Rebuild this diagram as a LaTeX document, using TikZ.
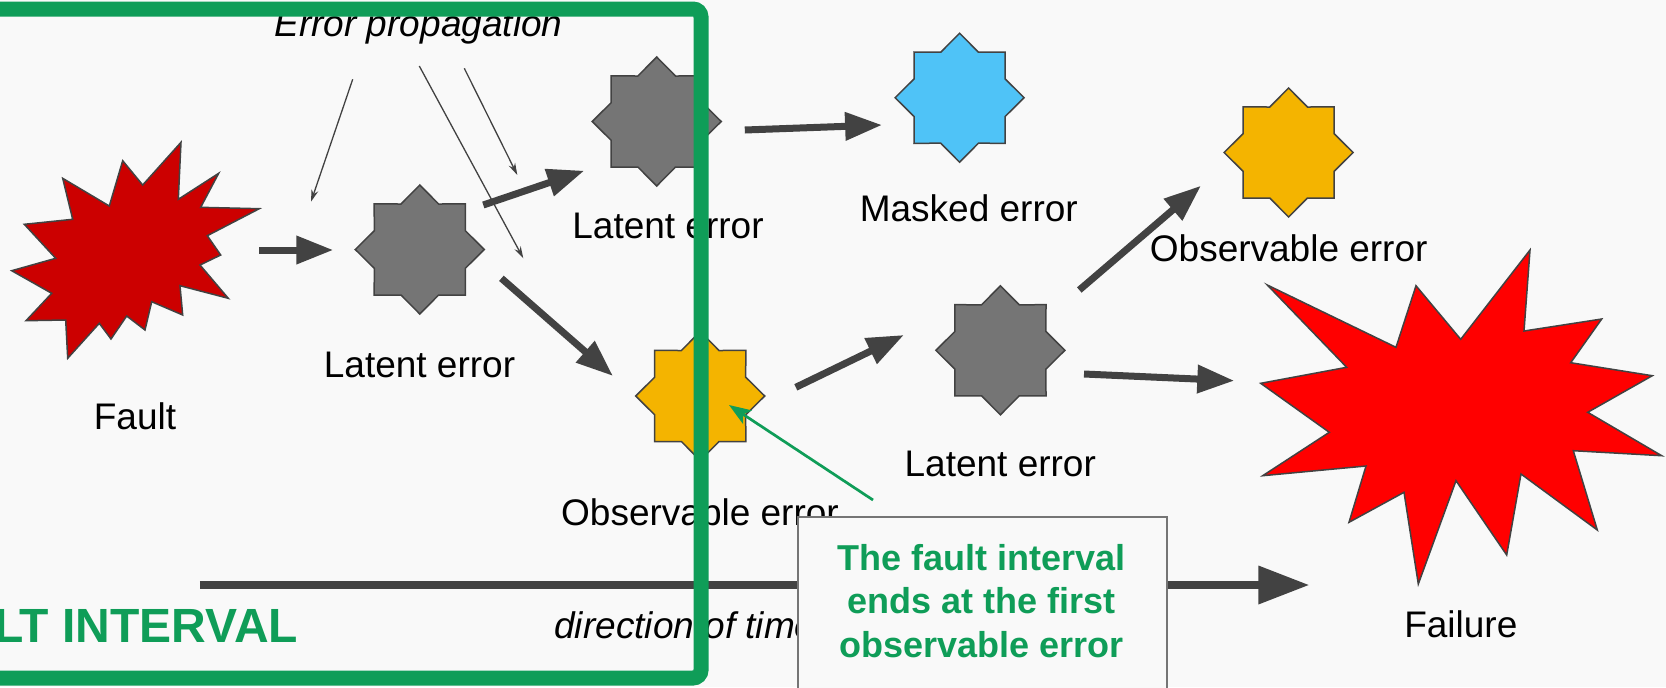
\documentclass[tikz,border=0pt]{standalone}
\usepackage{fontspec}
\setmainfont{Liberation Sans}
\usetikzlibrary{shapes.geometric,arrows.meta}
\definecolor{bg}{HTML}{F9F9F9}
\definecolor{dk}{HTML}{424242}
\definecolor{gstar}{HTML}{757575}
\definecolor{bstar}{HTML}{4FC3F7}
\definecolor{ystar}{HTML}{F4B400}
\definecolor{faultred}{HTML}{CC0000}
\definecolor{failred}{HTML}{FF0000}
\definecolor{ggreen}{HTML}{0F9D58}
\definecolor{boxline}{HTML}{757575}
\begin{document}
\begin{tikzpicture}[x=0.5pt,y=-0.5pt,
  errstar/.style={star, star points=8, star point ratio=1.31, minimum size=64.5pt,
    inner sep=0pt, draw=dk, line width=0.75pt},
  lbl/.style={font=\fontsize{18.5}{22}\selectfont, inner sep=0pt, anchor=base},
  itlbl/.style={font=\fontsize{18.5}{22}\selectfont\itshape, inner sep=0pt},
  bigarrow/.style={draw=dk, line width=3.5pt, -{Triangle[length=18.5pt,width=13.5pt]}},
  timearrow/.style={draw=dk, line width=4pt, -{Triangle[length=25.5pt,width=18.3pt]}},
  thinarrow/.style={draw=dk, line width=0.65pt, -{Stealth[length=6pt,width=3.5pt]}},
  burst/.style={draw=dk, line width=0.75pt, line join=miter},
  greenarrow/.style={draw=ggreen, line width=1.35pt, -{Stealth[length=11pt,width=8pt,inset=2.5pt]}}
]
\useasboundingbox (0,0) rectangle (1666,687);
\clip (0,0) rectangle (1666,687);
\fill[bg] (0,0) rectangle (1666,687);

% Fault burst
\draw[burst, fill=faultred] (181,142.3) -- (178.3,199.3) -- (218.7,173.3) -- (200.7,207.3)
  -- (259.3,208.7) -- (207.3,235.7) -- (220.7,255) -- (200,265) -- (228.3,298.3)
  -- (180,285.7) -- (182.7,315) -- (151.7,301.7) -- (145,330) -- (126.7,316)
  -- (111,339) -- (99.3,323.3) -- (67.7,358.3) -- (65.7,320) -- (26,320.7)
  -- (51.7,293.3) -- (11.7,270.7) -- (55.7,258.3) -- (24.3,224.3) -- (72.7,219.3)
  -- (62.7,178.3) -- (109.3,206) -- (122.7,160.7) -- (142.7,185) -- cycle;
\coordinate (fault) at (135,250);

% Failure burst
\draw[burst, fill=failred] (1530,250) -- (1524,331) -- (1601.7,319) -- (1570.7,362.7)
  -- (1652.3,375.7) -- (1587.7,412.3) -- (1661.7,455.7) -- (1573.3,450.7)
  -- (1597.3,530) -- (1521,474) -- (1506.7,555) -- (1456,480.7) -- (1418.3,584)
  -- (1404,492.3) -- (1349,522.3) -- (1366,466) -- (1262.7,475.7) -- (1329.3,432.3)
  -- (1260.7,383.3) -- (1346.7,367.3) -- (1267.3,285) -- (1396,347.3)
  -- (1416,285.7) -- (1460.7,339.3) -- cycle;
\coordinate (failure) at (1460,420);

% error stars
\node[errstar, fill=gstar] (lat1) at (419.8,249.5) {};
\node[errstar, fill=gstar] (lat2) at (656.7,121.5) {};
\node[errstar, fill=bstar] (masked) at (959.6,97.7) {};
\node[errstar, fill=ystar] (obs1) at (700.2,396) {};
\node[errstar, fill=gstar] (lat3) at (1000.4,350.3) {};
\node[errstar, fill=ystar] (obs2) at (1288.6,152.5) {};

% labels
\node[lbl] (tfault) at (135,429) {Fault};
\node[lbl] (tlat1) at (419.5,377.3) {Latent error};
\node[lbl] (tlat2) at (668,238.3) {Latent error};
\node[lbl] (tmasked) at (968.8,221.7) {Masked error};
\node[lbl] (tobs2) at (1288.7,261.7) {Observable error};
\node[lbl] (tlat3) at (1000.3,476.7) {Latent error};
\node[lbl] (tobs1) at (700,525.7) {Observable error};
\node[lbl] (tfail) at (1460.8,637.3) {Failure};
\node[itlbl, anchor=base] (tprop) at (418.5,36) {Error propagation};

% thick arrow end points
\coordinate (a1s) at (259.3,250);   \coordinate (a1e) at (333.3,250);
\coordinate (a2s) at (483.3,205);   \coordinate (a2e) at (584.3,170.7);
\coordinate (a3s) at (501.4,278.3); \coordinate (a3e) at (613,376);
\coordinate (a4s) at (744.8,130);   \coordinate (a4e) at (882.1,125);
\coordinate (a5s) at (795.8,387.3); \coordinate (a5e) at (903.9,335);
\coordinate (a6s) at (1079.3,290);  \coordinate (a6e) at (1201,185.7);
\coordinate (a7s) at (1084,374);    \coordinate (a7e) at (1234.3,380.7);
\draw[bigarrow] (a1s) -- (a1e);
\draw[bigarrow] (a2s) -- (a2e);
\draw[bigarrow] (a3s) -- (a3e);
\draw[bigarrow] (a4s) -- (a4e);
\draw[bigarrow] (a5s) -- (a5e);
\draw[bigarrow] (a6s) -- (a6e);
\draw[bigarrow] (a7s) -- (a7e);

% propagation arrows
\coordinate (p1s) at (352.7,79.3); \coordinate (p1e) at (311,201.7);
\coordinate (p2s) at (419.3,66);   \coordinate (p2e) at (523.3,258.3);
\coordinate (p3s) at (464.3,68.3); \coordinate (p3e) at (517.3,175);
\draw[thinarrow] (p1s) -- (p1e);
\draw[thinarrow] (p2s) -- (p2e);
\draw[thinarrow] (p3s) -- (p3e);

% time axis
\coordinate (ts) at (199.8,585); \coordinate (te) at (1309.4,585);
\draw[timearrow] (ts) -- (te);
\node[itlbl, anchor=base west] (tdir) at (554,638) {direction of time};

% note box
\node[draw=boxline, line width=0.75pt, fill=bg, minimum width=184.5pt, minimum height=100pt,
  anchor=north west, inner sep=0pt] (notebox) at (797,516) {};
\node[font=\fontsize{18}{21.7}\selectfont\bfseries, text=ggreen, align=center, inner sep=0pt]
  (notetext) at (981.5,601) {The fault interval\\ends at the first\\observable error};
\coordinate (gs) at (873,500);
\coordinate (gtip) at (729,405);
\draw[greenarrow] (gs) -- (gtip);

% fault interval frame
\draw[ggreen, line width=7.5pt, rounded corners=4pt] (-40,9) rectangle (701,678);
\node[font=\fontsize{24}{28}\selectfont\bfseries, text=ggreen, anchor=base east, inner sep=0pt]
  (tinterval) at (298.5,642) {FAULT INTERVAL};
\end{tikzpicture}
\end{document}
